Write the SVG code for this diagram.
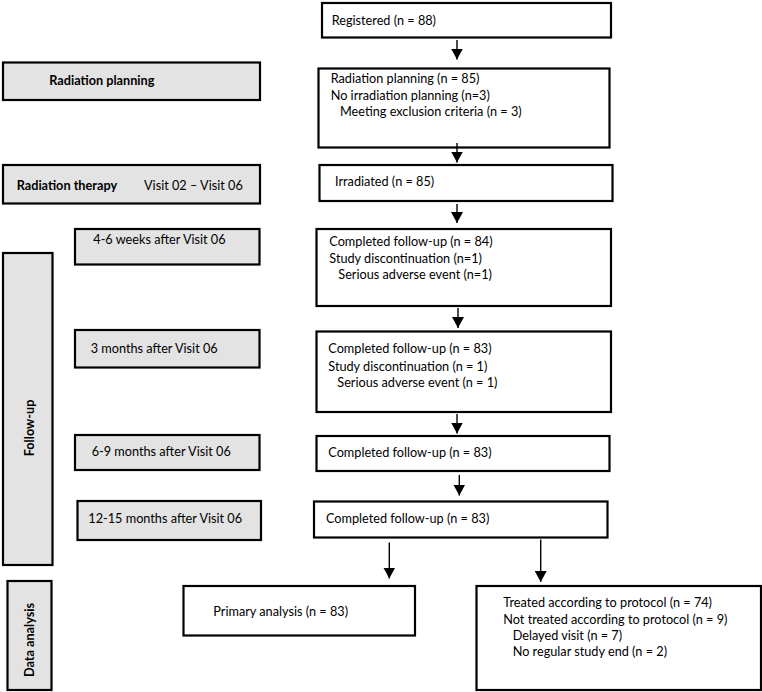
<svg xmlns="http://www.w3.org/2000/svg" width="762" height="692" viewBox="0 0 762 692">
<style>
.box{fill:#fff;stroke:#000;stroke-width:2.2}
.gbox{fill:#e3e3e3;stroke:#000;stroke-width:2.2}
text{font-family:Lato,"Liberation Sans",Arial,sans-serif;font-size:12.7px;fill:#000}
.b{font-weight:bold}
.conn{stroke:#000;stroke-width:1.4;fill:none}
</style>
<defs>
<marker id="ah" markerUnits="userSpaceOnUse" markerWidth="12" markerHeight="12" viewBox="0 0 12 12" refX="11" refY="6" orient="auto">
<path d="M0,0 L11,6 L0,12 Z" fill="#000"/>
</marker>
</defs>
<rect width="762" height="692" fill="#fff"/>

<g id="phase-planning"><rect class="gbox" x="3" y="62.5" width="257" height="37.5"/><text class="b" x="49.3" y="84.5">Radiation planning</text></g>
<g id="phase-therapy"><rect class="gbox" x="3" y="165" width="257" height="38.5"/><text class="b" x="16.7" y="189.5">Radiation therapy</text><text x="144" y="189.5">Visit 02 – Visit 06</text></g>
<g id="phase-followup"><rect class="gbox" x="3" y="253" width="49.5" height="312"/><text class="b" transform="translate(34,428) rotate(-90)" text-anchor="middle">Follow-up</text></g>
<g id="fu-4-6w"><rect class="gbox" x="75" y="229" width="184.5" height="35.5"/><text x="93.3" y="243.5">4-6 weeks after Visit 06</text></g>
<g id="fu-3m"><rect class="gbox" x="75" y="330" width="184.5" height="37.5"/><text x="90.7" y="353">3 months after Visit 06</text></g>
<g id="fu-6-9m"><rect class="gbox" x="75" y="435" width="184.5" height="35"/><text x="91.7" y="456">6-9 months after Visit 06</text></g>
<g id="fu-12-15m"><rect class="gbox" x="77.5" y="501" width="183.5" height="39"/><text x="88.3" y="522.5">12-15 months after Visit 06</text></g>
<g id="phase-analysis"><rect class="gbox" x="7.5" y="581" width="44" height="109"/><text class="b" transform="translate(33.5,640) rotate(-90)" text-anchor="middle">Data analysis</text></g>

<g id="registered"><rect class="box" x="322" y="3" width="289" height="34.5"/><text x="331.7" y="24.5">Registered (n = 88)</text></g>
<g id="planning"><rect class="box" x="318.5" y="68.5" width="291" height="79"/><text x="330.7" y="83">Radiation planning (n = 85)</text><text x="330.7" y="99.5">No irradiation planning (n=3)</text><text x="340" y="115.5">Meeting exclusion criteria (n = 3)</text></g>
<g id="irradiated"><rect class="box" x="319.5" y="165" width="293" height="36"/><text x="335" y="185.5">Irradiated (n = 85)</text></g>
<g id="fu1"><rect class="box" x="316.5" y="229" width="294.5" height="77"/><text x="329.3" y="245.5">Completed follow-up (n = 84)</text><text x="329.3" y="262.5">Study discontinuation (n=1)</text><text x="338.3" y="278.5">Serious adverse event (n=1)</text></g>
<g id="fu2"><rect class="box" x="316.5" y="331.5" width="294.5" height="80.5"/><text x="328.3" y="353">Completed follow-up (n = 83)</text><text x="328.3" y="370.5">Study discontinuation (n = 1)</text><text x="337.3" y="387">Serious adverse event (n = 1)</text></g>
<g id="fu3"><rect class="box" x="316.5" y="436" width="293" height="35"/><text x="328.3" y="456.5">Completed follow-up (n = 83)</text></g>
<g id="fu4"><rect class="box" x="314" y="501.5" width="293.5" height="36"/><text x="326" y="523">Completed follow-up (n = 83)</text></g>
<g id="primary"><rect class="box" x="183.5" y="586" width="231.5" height="49.5"/><text x="213.3" y="615.5">Primary analysis (n = 83)</text></g>
<g id="protocol"><rect class="box" x="476.5" y="586" width="284.5" height="104"/><text x="503.3" y="606.5">Treated according to protocol (n = 74)</text><text x="503.3" y="623.5">Not treated according to protocol (n = 9)</text><text x="512.7" y="639.5">Delayed visit (n = 7)</text><text x="512.7" y="656">No regular study end (n = 2)</text></g>

<g id="connectors">
<line class="conn" x1="457" y1="40" x2="457" y2="59.5" marker-end="url(#ah)"/>
<line class="conn" x1="457" y1="143" x2="457" y2="162.5" marker-end="url(#ah)"/>
<line class="conn" x1="457" y1="204" x2="457" y2="223" marker-end="url(#ah)"/>
<line class="conn" x1="458" y1="308" x2="458" y2="328" marker-end="url(#ah)"/>
<line class="conn" x1="457" y1="414" x2="457" y2="433.5" marker-end="url(#ah)"/>
<line class="conn" x1="459.3" y1="475" x2="459.3" y2="495.5" marker-end="url(#ah)"/>
<line class="conn" x1="389.3" y1="542.5" x2="389.3" y2="578.5" marker-end="url(#ah)"/>
<line class="conn" x1="540.7" y1="539.5" x2="540.7" y2="582" marker-end="url(#ah)"/>
</g>
</svg>
